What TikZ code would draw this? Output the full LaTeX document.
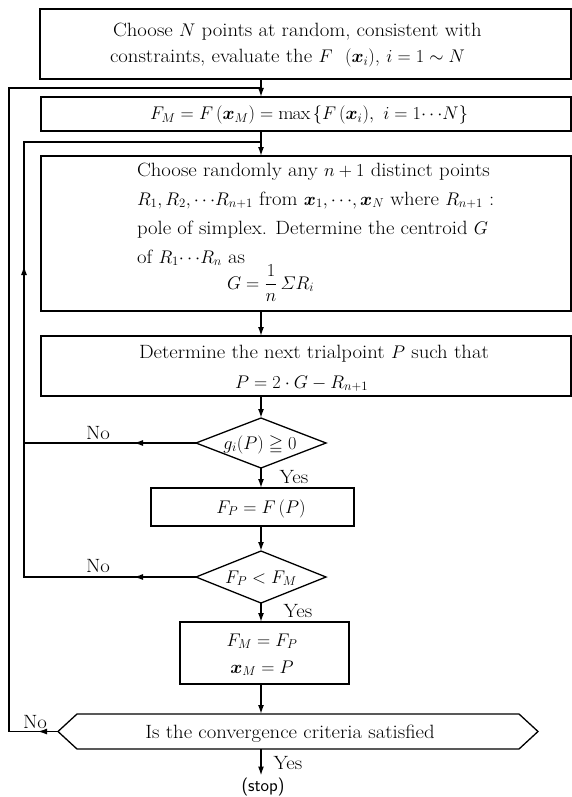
\RequirePackage{fix-cm}
\documentclass[tikz,border=0pt]{standalone}
\usepackage{amsmath,amssymb,bm}
\usepackage{fontspec}
\setmainfont{Latin Modern Roman}[FakeStretch=1.08]
\DeclareMathSizes{19.2}{18.3}{12.8}{9.2}
\usetikzlibrary{arrows.meta,shapes.geometric,calc,decorations.markings}

\tikzset{
  every node/.style={inner sep=0pt, outer sep=0pt},
  stepbox/.style={draw, line width=1.3pt, rectangle},
  decision/.style={draw, line width=1.3pt, diamond, minimum width=130pt, minimum height=50pt},
  txt/.style={font=\fontsize{19.2}{22}\selectfont},
  stoptxt/.style={font=\sffamily\fontsize{18}{22}\selectfont},
  flow/.style={line width=1.5pt, -{Latex[length=9pt,width=6pt]}},
  backline/.style={line width=1.9pt, line join=miter},
  midtip/.style={postaction={decorate}, decoration={markings,
      mark=at position #1 with {\arrow{Latex[length=10pt,width=6pt]}}}},
}

\begin{document}
\begin{tikzpicture}[x=1pt,y=-1pt]
\useasboundingbox (0,0) rectangle (572,797);
\fill[white] (0,0) rectangle (572,797);

% column of the main flow and the two return lines
\coordinate (ax) at (261,0);
\coordinate (outer) at (9,0);
\coordinate (inner) at (24,0);
\coordinate (j1) at (261,88);
\coordinate (j2) at (261,142);

% shapes
\node[stepbox, minimum width=531pt, minimum height=70pt] (b1) at (305.5,44) {};
\node[stepbox, minimum width=530pt, minimum height=34pt] (b2) at (306,114) {};
\node[stepbox, minimum width=530pt, minimum height=155pt] (b3) at (306,233.5) {};
\node[stepbox, minimum width=530pt, minimum height=60pt] (b4) at (306,366) {};
\node[decision] (d1) at (261,443) {};
\node[stepbox, minimum width=203pt, minimum height=38pt] (fp) at (252.5,507) {};
\node[decision, minimum height=52pt] (d2) at (261,577) {};
\node[stepbox, minimum width=169pt, minimum height=62pt] (fm) at (264.5,653) {};
\node[minimum width=480pt, minimum height=35pt] (hx) at (298,731.5) {};
\draw[line width=1.3pt, line join=miter]
  (hx.west) -- ($(hx.north west)+(19,0)$) -- ($(hx.north east)+(-19,0)$)
  -- (hx.east) -- ($(hx.south east)+(-19,0)$) -- ($(hx.south west)+(19,0)$) -- cycle;

% texts
\node[txt, anchor=base west] (t1a) at (113,37) {Choose $N$ points at random, consistent with};
\node[txt, anchor=base west] (t1b) at (110,63) {constraints, evaluate the $F$\ \ $(\bm{x}_i)$, $i=1\sim N$};
\node[txt, anchor=base] (t2) at (309,120) {$F_M=F\,(\bm{x}_M)=\max\,\{F\,(\bm{x}_i),\ i=1{\cdots}N\}$};
\node[txt, anchor=base west] (t3a) at (137,176) {Choose randomly any $n+1$ distinct points};
\node[txt, anchor=base west] (t3b) at (137,205) {$R_1, R_2, {\cdots}R_{n+1}$ from $\bm{x}_1, {\cdots}, \bm{x}_N$ where $R_{n+1}$ :};
\node[txt, anchor=base west] (t3c) at (137,234) {pole of simplex. Determine the centroid $G$};
\node[txt, anchor=base west] (t3d) at (137,263) {of $R_1{\cdots}R_n$ as};
\node[txt, anchor=base west] (t3e) at (227,289) {$G=\dfrac{1}{n}\,\varSigma R_i$};
\node[txt, anchor=base west] (t4a) at (139,358) {Determine the next trialpoint $P$ such that};
\node[txt, anchor=base west] (t4b) at (235,388) {$P=2\cdot G-R_{n+1}$};
\node[txt, anchor=base] (t5) at (260,449) {$g_i(P)\geqq 0$};
\node[txt, anchor=base] (t6) at (261,513) {$F_P=F\,(P)$};
\node[txt, anchor=base] (t7) at (261,583) {$F_P<F_M$};
\node[txt, anchor=base] (t8a) at (262,646) {$F_M=F_P$};
\node[txt, anchor=base] (t8b) at (262,673) {$\bm{x}_M=P$};
\node[txt, anchor=base] (t9) at (290,738) {Is the convergence criteria satisfied};
\node[stoptxt, anchor=base] (stop) at (263,791) {(stop)};

% branch labels
\node[txt, anchor=base] (n1) at (98,439) {No};
\node[txt, anchor=base] (n2) at (98,572) {No};
\node[txt, anchor=base] (n3) at (35,728) {No};
\node[txt, anchor=base] (y1) at (294,483) {Yes};
\node[txt, anchor=base] (y2) at (298,617) {Yes};
\node[txt, anchor=base] (y3) at (288,769) {Yes};

% main flow
\draw[flow] (b1.south -| ax) -- (b2.north -| ax);
\draw[flow] (b2.south -| ax) -- (b3.north -| ax);
\draw[flow] (b3.south -| ax) -- (b4.north -| ax);
\draw[flow] (b4.south -| ax) -- (d1.north);
\draw[flow] (d1.south) -- (fp.north -| ax);
\draw[flow] (fp.south -| ax) -- (d2.north);
\draw[flow] (d2.south) -- (fm.north -| ax);
\draw[flow] (fm.south -| ax) -- (hx.north -| ax);
\draw[flow] (hx.south -| ax) -- ($(stop.north -| ax)+(0,-2)$);

% return lines
\draw[backline, midtip=21pt] (hx.west) -- (hx.west -| outer) -- (j1 -| outer) -- (j1);
\draw[backline, midtip=63pt] (d1.west) -- (d1.west -| inner);
\draw[backline, postaction={decorate}, decoration={markings,
    mark=at position 63pt with {\arrow{Latex[length=10pt,width=6pt]}},
    mark=at position 484pt with {\arrow{Latex[length=10pt,width=6pt]}}}]
  (d2.west) -- (d2.west -| inner) -- (j2 -| inner) -- (j2);
\end{tikzpicture}
\end{document}
